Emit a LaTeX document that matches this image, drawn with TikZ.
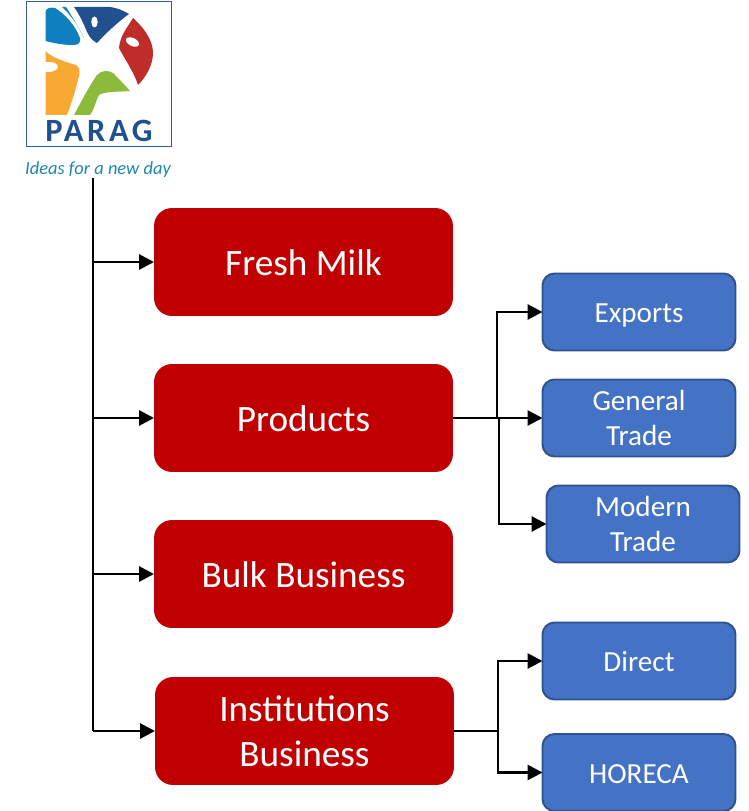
\documentclass[tikz,border=0pt]{standalone}
\usepackage{fontspec}
\setmainfont{Carlito}
\usetikzlibrary{arrows.meta}
\definecolor{parred}{HTML}{C00000}
\definecolor{parblue}{HTML}{4472C4}
\definecolor{parline}{HTML}{2F528F}
\definecolor{logoframe}{HTML}{2F5FA0}
\definecolor{logosky}{HTML}{0F7FBF}
\definecolor{logonavy}{HTML}{22508F}
\definecolor{logored}{HTML}{BF2D2A}
\definecolor{logoamber}{HTML}{F7A933}
\definecolor{logogreen}{HTML}{8CBB3C}
\definecolor{logotag}{HTML}{1F86AE}
\tikzset{
	mainbox/.style={fill=parred, rounded corners=0.36cm, minimum width=5.98cm, minimum height=2.16cm, outer sep=0pt, text=white, align=center, font=\fontsize{21.2}{25.6}\selectfont},
	subbox/.style={fill=parblue, draw=parline, line width=1.1pt, rounded corners=0.24cm, minimum width=3.86cm, minimum height=1.54cm, outer sep=0pt, text=white, align=center, font=\fontsize{16.6}{20}\selectfont},
	mainline/.style={text height=14.8pt, text depth=0pt},
	subline/.style={text height=12.4pt, text depth=0pt},
	link/.style={line width=1.6pt, -{Triangle[length=0.3cm,width=0.3cm]}},
	trunk/.style={line width=1.6pt}
}
\begin{document}
\begin{tikzpicture}[x=0.02cm, y=-0.02cm]
	\useasboundingbox (0, 0) rectangle (748, 811);
	%%%%% LOGO %%%%%
	\draw[logoframe, line width=0.7pt] (26.5, 1.5) rectangle (171.5, 146.5);
	\fill[logosky] (45.5, 12) .. controls (46, 8) and (50, 7) .. (55, 8) .. controls (65, 14) and (75, 25) .. (80, 38) .. controls (81, 43) and (78, 45) .. (73, 45) .. controls (62, 45) and (54, 43) .. (45.5, 41) -- cycle;
	\fill[logosky] (62, 7) .. controls (70, 14) and (78, 25) .. (84, 38) .. controls (77, 24) and (71, 15) .. (66, 7) -- cycle;
	\fill[logonavy] (74, 7) -- (110, 7) .. controls (118, 8) and (124, 11) .. (129, 14) .. controls (118, 22) and (106, 33) .. (97, 43) .. controls (93, 41) and (90, 38) .. (87, 32) .. controls (83, 22) and (79, 14) .. (74, 7) -- cycle;
	\fill[white] (94.5, 22) ellipse (3.2 and 5.5);
	\fill[logored] (133, 18) .. controls (144, 28) and (153, 40) .. (153, 53) .. controls (153, 65) and (146, 77) .. (138, 85) .. controls (134, 72) and (124, 58) .. (119, 48) .. controls (120, 36) and (127, 28) .. (133, 18) -- cycle;
	\fill[white, rotate around={-25:(132.5, 42)}] (132.5, 42) ellipse (7 and 4);
	\fill[logoamber] (45.5, 51) .. controls (52, 58) and (66, 62) .. (76, 65) .. controls (80, 67) and (80, 72) .. (79, 76) .. controls (75, 92) and (71, 105) .. (67, 115) -- (45.5, 115) -- (45.5, 72) .. controls (52, 73) and (58, 70) .. (58, 67) .. controls (58, 63) and (52, 61) .. (45.5, 62) -- cycle;
	\fill[logogreen] (74, 115) .. controls (83, 98) and (90, 85) .. (97, 75) .. controls (102, 70) and (108, 70) .. (113, 73) .. controls (119, 79) and (125, 85) .. (130, 91) .. controls (120, 92) and (105, 91) .. (99, 95) .. controls (96, 100) and (95, 108) .. (90, 115) -- cycle;
	\node[text=logonavy, inner sep=0pt] (logoname) at (99, 130.5) {\fontsize{18.5}{20}\bfseries\addfontfeature{LetterSpace=11}\selectfont PARAG};
	\node[text=logotag, inner sep=0pt] (tagline) at (98, 170) {\fontsize{10.5}{12}\itshape\selectfont Ideas for a new day};
	%%%%% BOXES %%%%%
	\node[mainbox, mainline] (fresh) at (303.5, 262) {Fresh Milk};
	\node[mainbox, mainline] (products) at (303.5, 418) {Products};
	\node[mainbox, mainline] (bulk) at (303.5, 574) {Bulk Business};
	\node[mainbox] (inst) at (304.5, 731) {Institutions\\Business};
	\node[subbox, subline] (exports) at (639, 312) {Exports};
	\node[subbox] (general) at (639, 418) {General\\Trade};
	\node[subbox] (modern) at (643, 524) {Modern\\Trade};
	\node[subbox, subline] (direct) at (639, 661) {Direct};
	\node[subbox, subline] (horeca) at (639, 772.5) {HORECA};
	%%%%% LINES %%%%%
	\coordinate (top) at (93, 178);
	\coordinate (prodsplit) at (497, 418);
	\coordinate (prodsplitb) at (499, 418);
	\coordinate (instsplit) at (498, 731);
	\draw[trunk] (top) -- (top |- inst.west);
	\draw[link] (top |- fresh.west) -- (fresh.west);
	\draw[link] (top |- products.west) -- (products.west);
	\draw[link] (top |- bulk.west) -- (bulk.west);
	\draw[link] (top |- inst.west) -- (inst.west);
	\draw[link] (products.east) -- (general.west);
	\draw[link] (prodsplit) -- (prodsplit |- exports.west) -- (exports.west);
	\draw[link] (prodsplitb) -- (prodsplitb |- modern.west) -- (modern.west);
	\draw[trunk] (inst.east) -- (instsplit);
	\draw[link] (instsplit) -- (instsplit |- direct.west) -- (direct.west);
	\draw[link] (instsplit) -- (instsplit |- horeca.west) -- (horeca.west);
\end{tikzpicture}
\end{document}
